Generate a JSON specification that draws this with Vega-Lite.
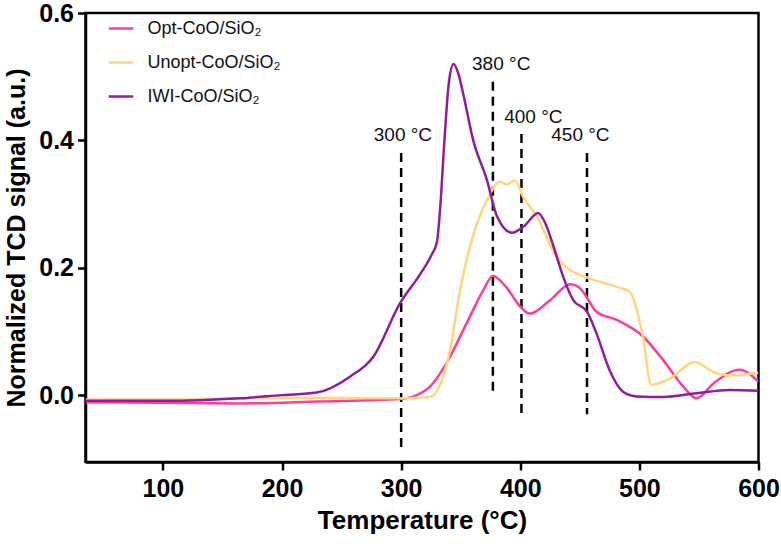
{
  "$schema": "https://vega.github.io/schema/vega-lite/v6.json",
  "autosize": {"type": "none"},
  "width": 673,
  "height": 449,
  "padding": {"left": 85.5, "top": 13, "right": 22.5, "bottom": 84},
  "background": "white",
  "config": {
    "font": "Liberation Sans",
    "view": {"stroke": "black", "strokeWidth": 2.5},
    "axis": {
      "domainColor": "black", "domainWidth": 2.5, "tickColor": "black", "tickWidth": 2.5, "tickSize": 8,
      "labelFont": "Liberation Sans", "labelFontWeight": "bold", "labelFontSize": 25, "labelColor": "black",
      "titleFont": "Liberation Sans", "titleFontWeight": "bold", "titleFontSize": 26, "titleColor": "black",
      "grid": false, "labelFlush": false
    }
  },
  "datasets": {
    "curves": [
      {"T": 35, "v": -0.011, "s": "Opt-CoO/SiO₂"},
      {"T": 100, "v": -0.012, "s": "Opt-CoO/SiO₂"},
      {"T": 165, "v": -0.013, "s": "Opt-CoO/SiO₂"},
      {"T": 230, "v": -0.01, "s": "Opt-CoO/SiO₂"},
      {"T": 299, "v": -0.006, "s": "Opt-CoO/SiO₂"},
      {"T": 313, "v": 0.0, "s": "Opt-CoO/SiO₂"},
      {"T": 324, "v": 0.013, "s": "Opt-CoO/SiO₂"},
      {"T": 338, "v": 0.05, "s": "Opt-CoO/SiO₂"},
      {"T": 355, "v": 0.113, "s": "Opt-CoO/SiO₂"},
      {"T": 369, "v": 0.165, "s": "Opt-CoO/SiO₂"},
      {"T": 377, "v": 0.187, "s": "Opt-CoO/SiO₂"},
      {"T": 388, "v": 0.17, "s": "Opt-CoO/SiO₂"},
      {"T": 400, "v": 0.139, "s": "Opt-CoO/SiO₂"},
      {"T": 408, "v": 0.128, "s": "Opt-CoO/SiO₂"},
      {"T": 425, "v": 0.149, "s": "Opt-CoO/SiO₂"},
      {"T": 442, "v": 0.174, "s": "Opt-CoO/SiO₂"},
      {"T": 450, "v": 0.168, "s": "Opt-CoO/SiO₂"},
      {"T": 464, "v": 0.131, "s": "Opt-CoO/SiO₂"},
      {"T": 481, "v": 0.118, "s": "Opt-CoO/SiO₂"},
      {"T": 503, "v": 0.092, "s": "Opt-CoO/SiO₂"},
      {"T": 520, "v": 0.055, "s": "Opt-CoO/SiO₂"},
      {"T": 537, "v": 0.013, "s": "Opt-CoO/SiO₂"},
      {"T": 548, "v": -0.005, "s": "Opt-CoO/SiO₂"},
      {"T": 562, "v": 0.018, "s": "Opt-CoO/SiO₂"},
      {"T": 584, "v": 0.04, "s": "Opt-CoO/SiO₂"},
      {"T": 600, "v": 0.021, "s": "Opt-CoO/SiO₂"},

      {"T": 35, "v": -0.007, "s": "Unopt-CoO/SiO₂"},
      {"T": 100, "v": -0.007, "s": "Unopt-CoO/SiO₂"},
      {"T": 200, "v": -0.004, "s": "Unopt-CoO/SiO₂"},
      {"T": 300, "v": -0.005, "s": "Unopt-CoO/SiO₂"},
      {"T": 324, "v": -0.003, "s": "Unopt-CoO/SiO₂"},
      {"T": 333, "v": 0.018, "s": "Unopt-CoO/SiO₂"},
      {"T": 341, "v": 0.07, "s": "Unopt-CoO/SiO₂"},
      {"T": 349.5, "v": 0.165, "s": "Unopt-CoO/SiO₂"},
      {"T": 361, "v": 0.254, "s": "Unopt-CoO/SiO₂"},
      {"T": 372, "v": 0.306, "s": "Unopt-CoO/SiO₂"},
      {"T": 383, "v": 0.335, "s": "Unopt-CoO/SiO₂"},
      {"T": 388.5, "v": 0.331, "s": "Unopt-CoO/SiO₂"},
      {"T": 395.5, "v": 0.337, "s": "Unopt-CoO/SiO₂"},
      {"T": 402.5, "v": 0.311, "s": "Unopt-CoO/SiO₂"},
      {"T": 414, "v": 0.28, "s": "Unopt-CoO/SiO₂"},
      {"T": 430.5, "v": 0.217, "s": "Unopt-CoO/SiO₂"},
      {"T": 442, "v": 0.196, "s": "Unopt-CoO/SiO₂"},
      {"T": 458.5, "v": 0.183, "s": "Unopt-CoO/SiO₂"},
      {"T": 481, "v": 0.17, "s": "Unopt-CoO/SiO₂"},
      {"T": 492, "v": 0.162, "s": "Unopt-CoO/SiO₂"},
      {"T": 503, "v": 0.092, "s": "Unopt-CoO/SiO₂"},
      {"T": 510, "v": 0.016, "s": "Unopt-CoO/SiO₂"},
      {"T": 525.5, "v": 0.026, "s": "Unopt-CoO/SiO₂"},
      {"T": 546.5, "v": 0.052, "s": "Unopt-CoO/SiO₂"},
      {"T": 561.5, "v": 0.037, "s": "Unopt-CoO/SiO₂"},
      {"T": 576, "v": 0.031, "s": "Unopt-CoO/SiO₂"},
      {"T": 600, "v": 0.035, "s": "Unopt-CoO/SiO₂"},

      {"T": 35, "v": -0.009, "s": "IWI-CoO/SiO₂"},
      {"T": 100, "v": -0.009, "s": "IWI-CoO/SiO₂"},
      {"T": 165, "v": -0.005, "s": "IWI-CoO/SiO₂"},
      {"T": 200, "v": 0.0, "s": "IWI-CoO/SiO₂"},
      {"T": 229, "v": 0.004, "s": "IWI-CoO/SiO₂"},
      {"T": 257, "v": 0.029, "s": "IWI-CoO/SiO₂"},
      {"T": 276.5, "v": 0.06, "s": "IWI-CoO/SiO₂"},
      {"T": 299, "v": 0.144, "s": "IWI-CoO/SiO₂"},
      {"T": 316, "v": 0.19, "s": "IWI-CoO/SiO₂"},
      {"T": 325.5, "v": 0.22, "s": "IWI-CoO/SiO₂"},
      {"T": 330, "v": 0.24, "s": "IWI-CoO/SiO₂"},
      {"T": 333, "v": 0.3, "s": "IWI-CoO/SiO₂"},
      {"T": 336, "v": 0.39, "s": "IWI-CoO/SiO₂"},
      {"T": 340, "v": 0.49, "s": "IWI-CoO/SiO₂"},
      {"T": 344, "v": 0.52, "s": "IWI-CoO/SiO₂"},
      {"T": 348, "v": 0.505, "s": "IWI-CoO/SiO₂"},
      {"T": 352, "v": 0.474, "s": "IWI-CoO/SiO₂"},
      {"T": 360.5, "v": 0.4, "s": "IWI-CoO/SiO₂"},
      {"T": 372, "v": 0.338, "s": "IWI-CoO/SiO₂"},
      {"T": 380, "v": 0.283, "s": "IWI-CoO/SiO₂"},
      {"T": 393, "v": 0.255, "s": "IWI-CoO/SiO₂"},
      {"T": 403, "v": 0.265, "s": "IWI-CoO/SiO₂"},
      {"T": 415, "v": 0.286, "s": "IWI-CoO/SiO₂"},
      {"T": 421, "v": 0.27, "s": "IWI-CoO/SiO₂"},
      {"T": 428, "v": 0.233, "s": "IWI-CoO/SiO₂"},
      {"T": 436, "v": 0.186, "s": "IWI-CoO/SiO₂"},
      {"T": 444.5, "v": 0.149, "s": "IWI-CoO/SiO₂"},
      {"T": 456, "v": 0.131, "s": "IWI-CoO/SiO₂"},
      {"T": 464, "v": 0.097, "s": "IWI-CoO/SiO₂"},
      {"T": 475, "v": 0.039, "s": "IWI-CoO/SiO₂"},
      {"T": 486.5, "v": 0.005, "s": "IWI-CoO/SiO₂"},
      {"T": 498, "v": -0.002, "s": "IWI-CoO/SiO₂"},
      {"T": 520, "v": -0.003, "s": "IWI-CoO/SiO₂"},
      {"T": 548, "v": 0.003, "s": "IWI-CoO/SiO₂"},
      {"T": 576, "v": 0.008, "s": "IWI-CoO/SiO₂"},
      {"T": 600, "v": 0.007, "s": "IWI-CoO/SiO₂"}
    ],
    "marks": [
      {"T": 300, "y1": 0.38, "y2": -0.09, "lx": 301.5, "ly": 0.408, "label": "300 °C"},
      {"T": 377, "y1": 0.492, "y2": 0.0, "lx": 384, "ly": 0.52, "label": "380 °C"},
      {"T": 401, "y1": 0.41, "y2": -0.03, "lx": 411, "ly": 0.437, "label": "400 °C"},
      {"T": 456, "y1": 0.38, "y2": -0.03, "lx": 450.5, "ly": 0.408, "label": "450 °C"}
    ]
  },
  "layer": [
    {
      "data": {"name": "marks"},
      "mark": {"type": "rule", "strokeDash": [9, 6], "strokeWidth": 2.5, "color": "black"},
      "encoding": {
        "x": {"field": "T", "type": "quantitative"},
        "y": {"field": "y1", "type": "quantitative"},
        "y2": {"field": "y2"}
      }
    },
    {
      "data": {"name": "marks"},
      "mark": {"type": "text", "fontSize": 19, "font": "Liberation Sans", "color": "#111"},
      "encoding": {
        "x": {"field": "lx", "type": "quantitative"},
        "y": {"field": "ly", "type": "quantitative"},
        "text": {"field": "label"}
      }
    },
    {
      "data": {"name": "curves"},
      "mark": {"type": "line", "strokeWidth": 2.5, "interpolate": "monotone", "clip": true},
      "encoding": {
        "x": {"field": "T", "type": "quantitative", "scale": {"domain": [35, 600], "nice": false, "zero": false},
              "axis": {"values": [100, 200, 300, 400, 500, 600], "title": "Temperature (°C)", "labelPadding": 6, "titlePadding": 6}},
        "y": {"field": "v", "type": "quantitative", "scale": {"domain": [-0.105, 0.6], "nice": false, "zero": false},
              "axis": {"values": [0, 0.2, 0.4, 0.6], "format": ".1f", "title": "Normalized TCD signal (a.u.)", "titleFontSize": 25, "labelPadding": 4, "titlePadding": 9}},
        "color": {
          "field": "s", "type": "nominal",
          "scale": {"domain": ["Opt-CoO/SiO₂", "Unopt-CoO/SiO₂", "IWI-CoO/SiO₂"], "range": ["#FF3D97", "#FFD67A", "#8E1E9A"]},
          "legend": {
            "orient": "none", "legendX": 22, "legendY": 2, "title": null,
            "symbolType": "stroke", "symbolStrokeWidth": 2.5, "symbolSize": 600,
            "labelFontSize": 18, "labelFont": "Liberation Sans", "labelColor": "#111", "labelOffset": 13,
            "rowPadding": 11, "padding": 0
          }
        },
        "order": {"field": "T", "type": "quantitative"}
      }
    }
  ]
}
